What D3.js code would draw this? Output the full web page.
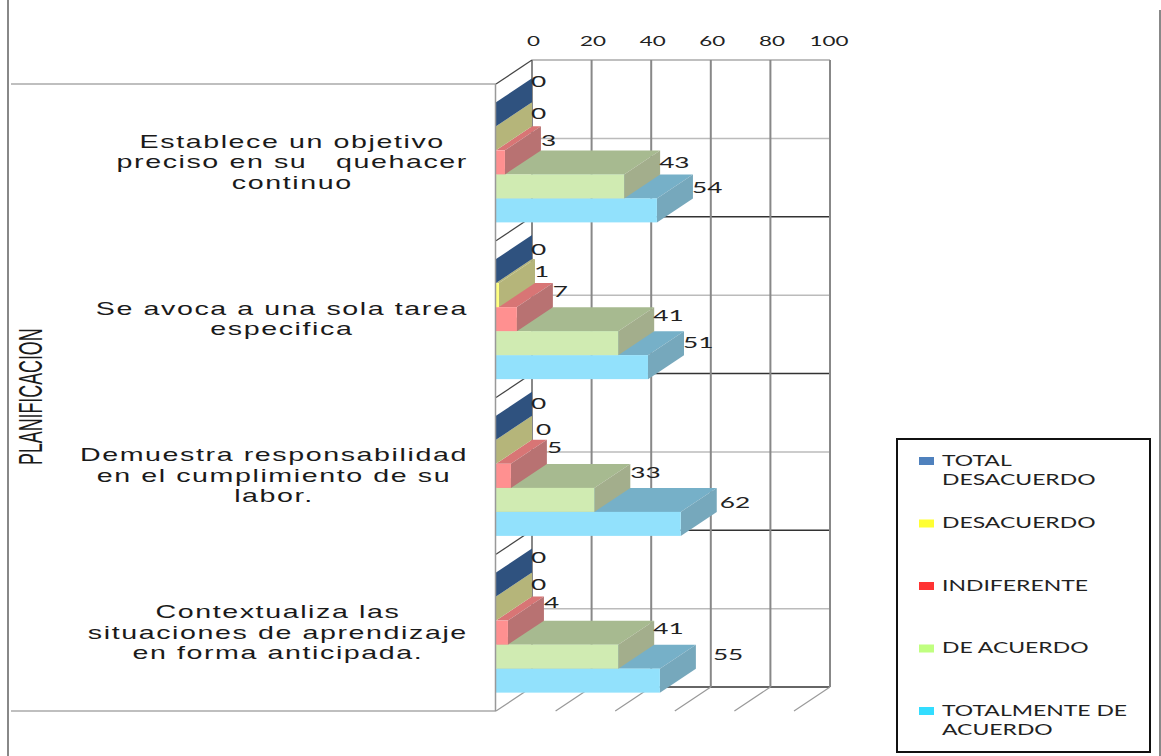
<!DOCTYPE html>
<html>
<head>
<meta charset="utf-8">
<script src="https://cdn.jsdelivr.net/npm/d3@7"></script>
<style>
  html, body { margin: 0; padding: 0; background: #fff; }
  svg { display: block; }
  text { white-space: pre; }
</style>
</head>
<body>
<div id="chart"></div>
<script>
// chart values
const categories = [
  ["Establece un objetivo", "preciso en su   quehacer", "continuo"],
  ["Se avoca a una sola tarea", "especifica"],
  ["Demuestra responsabilidad", "en el cumplimiento de su", "labor."],
  ["Contextualiza las", "situaciones de aprendizaje", "en forma anticipada."]
];
const seriesNames = ["TOTAL DESACUERDO", "DESACUERDO", "INDIFERENTE", "DE ACUERDO", "TOTALMENTE DE ACUERDO"];
const totalDesacuerdo = [0, 0, 0, 0];
const desacuerdo = [0, 1, 0, 0];
const indiferente = [3, 7, 5, 4];
const deAcuerdo = [43, 41, 33, 41];
const totalmenteDeAcuerdo = [54, 51, 62, 55];
const seriesValues = [totalDesacuerdo, desacuerdo, indiferente, deAcuerdo, totalmenteDeAcuerdo];
const tickValues = [0, 20, 40, 60, 80, 100];

// front, top and side shades of each bar, then the legend swatch
const frontColors = ["#5a80b0", "#ffff80", "#ff9090", "#d0ebb2", "#92e1fc"];
const topColors = ["#2f527f", "#b5b57a", "#d87575", "#a7ba90", "#76b0c8"];
const sideColors = ["#2f527f", "#b5b57a", "#b87272", "#a3ae8c", "#76a8bc"];
const swatchColors = ["#4f81bd", "#ffff33", "#ff3333", "#c0ff80", "#33ddff"];

// labels were dragged by hand in the sheet, [series][category]
const labelNudgeX = [
  [0, 0, 0, 0],
  [0, 0, 5, 0],
  [1, 1, 1, 1],
  [0, 0, 1, 0],
  [0, 0, 4, 18]
];
const labelNudgeY = [
  [-8, 3, 0, -3],
  [0, 1, 2, 0],
  [3, -3, -4, -6],
  [1, -3, -3, -4],
  [2, 0, 3, -2]
];

const width = 1161, height = 756;
const depthX = 36, depthY = -24;
const textFont = "'Liberation Sans', Arial, sans-serif";
const chartFont = "Lato, sans-serif";

const svg = d3.select("#chart").append("svg")
  .attr("width", width)
  .attr("height", height);

// scales for the front plane of the box
const x = d3.scaleLinear().domain([0, 100]).range([496, 794]);
const yCat = d3.scaleBand().domain(d3.range(categories.length)).range([84, 711]);
const ySeries = d3.scaleBand().domain(d3.range(seriesNames.length))
  .range([0, yCat.bandwidth()]).paddingOuter(0.765).paddingInner(0);

const backLeft = x(0) + depthX, backRight = x(100) + depthX;
const backTop = yCat.range()[0] + depthY, backBottom = yCat.range()[1] + depthY;

// outer frame
const frame = svg.append("g").attr("fill", "none").attr("stroke", "#999");
frame.append("line").attr("x1", 8).attr("x2", 8).attr("y1", 0).attr("y2", height).attr("stroke-width", 2).attr("stroke", "#888");
frame.append("line").attr("x1", 1160).attr("x2", 1160).attr("y1", 10).attr("y2", height).attr("stroke-width", 2).attr("stroke", "#888");
frame.append("line").attr("x1", 11).attr("x2", x(0)).attr("y1", 84).attr("y2", 84).attr("stroke-width", 1.5).attr("stroke", "#aaa");
frame.append("line").attr("x1", 11).attr("x2", x(0)).attr("y1", 711).attr("y2", 711).attr("stroke-width", 1.5).attr("stroke", "#aaa");

// back wall: mid lines, category separators, value grid
const wall = svg.append("g");
wall.selectAll(".mid").data(d3.range(categories.length)).enter().append("line")
  .attr("x1", backLeft).attr("x2", backRight)
  .attr("y1", d => yCat(d) + yCat.bandwidth() / 2 + depthY)
  .attr("y2", d => yCat(d) + yCat.bandwidth() / 2 + depthY)
  .attr("stroke", "#bbb").attr("stroke-width", 1.5);
wall.selectAll(".sep").data(d3.range(1, categories.length + 1)).enter().append("line")
  .attr("x1", backLeft).attr("x2", backRight)
  .attr("y1", d => yCat.range()[0] + d * yCat.bandwidth() + depthY)
  .attr("y2", d => yCat.range()[0] + d * yCat.bandwidth() + depthY)
  .attr("stroke", "#333").attr("stroke-width", 1.5);
wall.append("line").attr("x1", backLeft).attr("x2", backRight)
  .attr("y1", backTop).attr("y2", backTop)
  .attr("stroke", "#aaa").attr("stroke-width", 1.5);
wall.selectAll(".grid").data(tickValues).enter().append("line")
  .attr("x1", d => x(d) + depthX).attr("x2", d => x(d) + depthX)
  .attr("y1", backTop).attr("y2", backBottom)
  .attr("stroke", "#888").attr("stroke-width", 2);

// floor ticks
wall.selectAll(".floor").data(tickValues).enter().append("line")
  .attr("x1", d => x(d)).attr("y1", 711)
  .attr("x2", d => x(d) + depthX).attr("y2", backBottom)
  .attr("stroke", "#999").attr("stroke-width", 1.2);

// left wall diagonals
wall.selectAll(".diag").data(d3.range(categories.length)).enter().append("line")
  .attr("x1", x(0)).attr("y1", d => yCat(d))
  .attr("x2", backLeft).attr("y2", d => yCat(d) + depthY)
  .attr("stroke", "#444").attr("stroke-width", 1.2);

// flat rows of the bars, nearest the bottom drawn first
const bars = [];
categories.forEach((c, ci) => {
  d3.range(seriesNames.length).reverse().forEach(si => {
    bars.push({ ci: ci, si: si, value: seriesValues[si][ci] });
  });
});

function poly(points) {
  return points.map(p => p.join(",")).join(" ");
}

const barG = svg.append("g").selectAll("g").data(bars).enter().append("g");
barG.append("polygon")
  .attr("fill", d => topColors[d.si])
  .attr("points", d => {
    const y0 = yCat(d.ci) + ySeries(d.si);
    return poly([[x(0), y0], [x(d.value), y0], [x(d.value) + depthX, y0 + depthY], [x(0) + depthX, y0 + depthY]]);
  });
barG.append("polygon")
  .attr("fill", d => sideColors[d.si])
  .attr("points", d => {
    const y0 = yCat(d.ci) + ySeries(d.si), y1 = y0 + ySeries.bandwidth();
    return poly([[x(d.value), y0], [x(d.value) + depthX, y0 + depthY], [x(d.value) + depthX, y1 + depthY], [x(d.value), y1]]);
  });
barG.append("rect")
  .attr("fill", d => frontColors[d.si])
  .attr("x", x(0))
  .attr("y", d => yCat(d.ci) + ySeries(d.si))
  .attr("width", d => x(d.value) - x(0))
  .attr("height", ySeries.bandwidth());

// front edge of the left wall stays visible over the bars
svg.append("line").attr("x1", x(0) - 0.5).attr("x2", x(0) - 0.5)
  .attr("y1", 84).attr("y2", 711)
  .attr("stroke", "#999").attr("stroke-width", 1.5);

// value labels at the back end of each bar
svg.append("g").selectAll("text").data(bars).enter().append("text")
  .attr("transform", d => {
    const lx = x(d.value) + depthX - 1 + labelNudgeX[d.si][d.ci];
    const ly = yCat(d.ci) + ySeries(d.si) + ySeries.bandwidth() / 2 + depthY + 5 + labelNudgeY[d.si][d.ci];
    return "translate(" + lx + "," + ly + ") scale(1.75,1)";
  })
  .attr("font-family", chartFont)
  .attr("font-size", 15)
  .attr("fill", "#222")
  .text(d => d.value);

// value axis along the top of the back wall
const axis = svg.append("g")
  .attr("transform", "translate(" + (depthX + 1) + ",46)")
  .call(d3.axisTop(x).tickValues(tickValues).tickSize(0).tickPadding(0));
axis.select(".domain").remove();
axis.selectAll("text")
  .attr("y", 0).attr("dy", 0)
  .attr("transform", d => (d === 100 ? "translate(-2.5,0) " : "") + "scale(1.6,1)")
  .attr("font-family", chartFont)
  .attr("font-size", 14)
  .attr("fill", "#222");

// category labels, widest row of each block ends at the same x
const catRight = 468, catStretch = 1.59, lineGap = 20.5;
categories.forEach((lines, ci) => {
  const mid = yCat(ci) + yCat.bandwidth() / 2 + 6;
  const g = svg.append("g");
  const rows = g.selectAll("text").data(lines).enter().append("text")
    .attr("font-family", textFont)
    .attr("font-size", 18)
    .attr("letter-spacing", 1)
    .attr("fill", "#1a1a1a")
    .attr("text-anchor", "middle")
    .text(d => d);
  let widest = 0;
  rows.each(function() { widest = Math.max(widest, this.getComputedTextLength()); });
  const cx = catRight - widest * catStretch / 2;
  rows.attr("transform", (d, i) =>
    "translate(" + cx + "," + (mid + (i - (lines.length - 1) / 2) * lineGap) + ") scale(" + catStretch + ",1)");
});

// rotated group title
svg.append("text")
  .attr("transform", "translate(42,465) rotate(-90) scale(0.54,1)")
  .attr("font-family", textFont)
  .attr("font-size", 33)
  .attr("fill", "#1a1a1a")
  .text("PLANIFICACION");

// legend
svg.append("rect")
  .attr("x", 897).attr("y", 439).attr("width", 253).attr("height", 313)
  .attr("fill", "#fff").attr("stroke", "#111").attr("stroke-width", 2);

const legendY = d3.scaleLinear().domain([0, 4]).range([461, 711]);
const legendLines = [["TOTAL", "DESACUERDO"], ["DESACUERDO"], ["INDIFERENTE"], ["DE ACUERDO"], ["TOTALMENTE DE", "ACUERDO"]];
const legend = svg.append("g").selectAll("g").data(legendLines).enter().append("g");
legend.append("rect")
  .attr("x", 919).attr("width", 15).attr("height", 8)
  .attr("y", (d, i) => legendY(i) - 4)
  .attr("fill", (d, i) => swatchColors[i]);
legend.each(function(rows, i) {
  d3.select(this).selectAll("text").data(rows).enter().append("text")
    .attr("transform", (d, r) => "translate(942," + (legendY(i) + 4.5 + r * 19.5) + ") scale(1.53,1)")
    .attr("font-family", chartFont)
    .attr("font-size", 15)
    .attr("fill", "#222")
    .text(d => d);
});
</script>
</body>
</html>
